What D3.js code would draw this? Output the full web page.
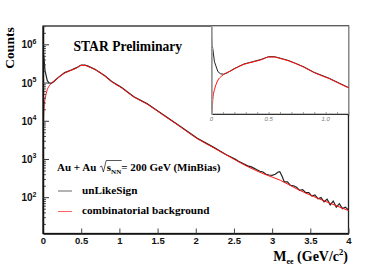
<!DOCTYPE html>
<html>
<head>
<meta charset="utf-8">
<script src="https://cdn.jsdelivr.net/npm/d3@7"></script>
<style>
	body { margin: 0; background: #fff; }
	svg { display: block; }
	.serif { font-family: "Liberation Serif", "Times New Roman", serif; font-weight: bold; }
	.sans { font-family: "Liberation Sans", Arial, sans-serif; font-weight: bold; }
</style>
</head>
<body>
<svg id="chart" width="371" height="266"></svg>
<script>
// mass in GeV/c^2, counts stored as log10(counts)
const bkgMass = [0, 0.004, 0.012, 0.03, 0.04, 0.057, 0.085, 0.131, 0.17, 0.197, 0.284, 0.37, 0.44, 0.50, 0.55, 0.59, 0.68, 0.81, 0.9, 1.03, 1.19, 1.36, 1.58, 1.80, 2.02, 2.23, 2.45, 2.67, 2.89, 3.11, 3.32, 3.54, 3.76, 4.0];
const bkgLog = [1.0, 3.6, 4.3, 4.6, 4.7, 4.82, 4.92, 5.02, 5.07, 5.12, 5.25, 5.32, 5.38, 5.45, 5.45, 5.42, 5.34, 5.17, 5.02, 4.86, 4.62, 4.44, 4.14, 3.84, 3.53, 3.30, 3.05, 2.81, 2.61, 2.44, 2.22, 2.02, 1.84, 1.65];

const unlikeMass = [0, 0.005, 0.012, 0.026, 0.056, 0.08, 0.108, 0.14, 0.17, 0.197, 0.284, 0.37, 0.44, 0.50, 0.55, 0.59, 0.68, 0.81, 0.9, 1.03, 1.19, 1.36, 1.58, 1.80, 2.02, 2.23,
	2.40, 2.44, 2.48, 2.52, 2.56, 2.60, 2.64, 2.68, 2.72, 2.76, 2.80, 2.84, 2.88, 2.92, 2.96, 3.00, 3.04, 3.08, 3.10, 3.13, 3.16, 3.20, 3.24, 3.28, 3.32, 3.36, 3.40, 3.44, 3.48, 3.52, 3.56, 3.60, 3.64, 3.68, 3.72, 3.76, 3.80, 3.84, 3.88, 3.92, 3.96, 4.00];
const unlikeLog = [6.0, 5.8, 5.66, 5.32, 5.05, 4.99, 4.98, 5.02, 5.08, 5.13, 5.26, 5.33, 5.39, 5.46, 5.46, 5.43, 5.35, 5.18, 5.03, 4.87, 4.63, 4.45, 4.15, 3.85, 3.54, 3.31,
	3.11, 3.07, 3.03, 2.99, 2.94, 2.90, 2.86, 2.82, 2.80, 2.76, 2.72, 2.68, 2.66, 2.60, 2.58, 2.57, 2.60, 2.66, 2.67, 2.55, 2.40, 2.40, 2.31, 2.30, 2.26, 2.18, 2.20, 2.12, 2.12, 2.03, 2.06, 1.96, 1.99, 1.88, 1.95, 1.80, 1.90, 1.74, 1.83, 1.70, 1.74, 1.66];

const massTicks = [0, 0.5, 1, 1.5, 2, 2.5, 3, 3.5, 4];
const massTickLabels = ["0", "0.5", "1", "1.5", "2", "2.5", "3", "3.5", "4"];
const countDecades = [2, 3, 4, 5, 6];
const insetTicks = [0, 0.5, 1.0];
const insetTickLabels = ["0", "0.5", "1.0"];

const bkgColor = "#ff1010";
const unlikeColor = "#222";

const svg = d3.select("#chart");
const main = { left: 43, right: 348.5, top: 26, bottom: 233.5 };
const inset = { left: 211.5, right: 348.5, top: 26, bottom: 114 };

const bkgData = bkgMass.map((m, i) => ({ m, c: 10 ** bkgLog[i] }));
const unlikeData = unlikeMass.map((m, i) => ({ m, c: 10 ** unlikeLog[i] }));

const x = d3.scaleLinear().domain([0, 4]).range([main.left, main.right]);
const y = d3.scaleLog().domain([10 ** 1.05, 10 ** 6.48]).range([main.bottom, main.top]);

const defs = svg.append("defs");
defs.append("clipPath").attr("id", "clipMain")
	.append("rect")
	.attr("x", main.left).attr("y", main.top)
	.attr("width", main.right - main.left).attr("height", main.bottom - main.top);
defs.append("clipPath").attr("id", "clipInset")
	.append("rect")
	.attr("x", inset.left).attr("y", inset.top)
	.attr("width", inset.right - inset.left).attr("height", inset.bottom - inset.top);

function drawCurves(g, xs, ys, clip, sigWidth) {
	const lineSig = d3.line().x(d => xs(d.m)).y(d => ys(d.c));
	const lineBkg = d3.line().x(d => xs(d.m)).y(d => ys(d.c)).curve(d3.curveMonotoneX);
	const cg = g.append("g").attr("clip-path", `url(#${clip})`);
	cg.append("path").datum(unlikeData)
		.attr("d", lineSig).attr("fill", "none")
		.attr("stroke", unlikeColor).attr("stroke-width", sigWidth);
	cg.append("path").datum(bkgData)
		.attr("d", lineBkg).attr("fill", "none")
		.attr("stroke", bkgColor).attr("stroke-width", 1);
}

// main frame
const gMain = svg.append("g");
gMain.append("rect")
	.attr("x", main.left).attr("y", main.top)
	.attr("width", main.right - main.left).attr("height", main.bottom - main.top)
	.attr("fill", "none").attr("stroke", "#222").attr("stroke-width", 1.3);

drawCurves(gMain, x, y, "clipMain", 1.2);

// x axis
const xAxis = gMain.append("g")
	.attr("transform", `translate(0,${main.bottom})`)
	.call(d3.axisBottom(x).tickValues(massTicks).tickSize(-5).tickSizeOuter(0).tickPadding(4)
		.tickFormat((d, i) => massTickLabels[i]));
xAxis.select(".domain").attr("stroke", "#111").attr("stroke-width", 1.4);
xAxis.selectAll(".tick line").attr("stroke", "#444");
xAxis.selectAll("text").attr("class", "sans").attr("font-size", 9.5).attr("fill", "#111");

// y axis
const minorVals = y.ticks().filter(v => Math.abs(Math.log10(v) - Math.round(Math.log10(v))) > 1e-6);
const yMinor = gMain.append("g")
	.attr("transform", `translate(${main.left},0)`)
	.call(d3.axisLeft(y).tickValues(minorVals).tickSize(-3).tickSizeOuter(0).tickFormat(""));
yMinor.select(".domain").remove();
yMinor.selectAll(".tick line").attr("stroke", "#555");
const yMajor = gMain.append("g")
	.attr("transform", `translate(${main.left},0)`)
	.call(d3.axisLeft(y).tickValues(countDecades.map(k => 10 ** k)).tickSize(-6).tickSizeOuter(0).tickFormat(""));
yMajor.select(".domain").attr("stroke", "#111").attr("stroke-width", 1.5);
yMajor.selectAll(".tick line").attr("stroke", "#333");

const yLabels = gMain.selectAll(".ylab")
	.data(countDecades)
	.enter()
	.append("text")
	.attr("class", "sans ylab")
	.attr("x", 36.5)
	.attr("y", d => y(10 ** d) + 4)
	.attr("text-anchor", "end")
	.attr("font-size", 10)
	.attr("fill", "#111");
yLabels.append("tspan").text("10");
yLabels.append("tspan").attr("dy", -4.5).attr("font-size", 7).text(d => d);

// axis titles
svg.append("text")
	.attr("class", "serif")
	.attr("transform", "translate(14,48) rotate(-90)")
	.attr("text-anchor", "middle")
	.attr("font-size", 13.5)
	.text("Counts");

const xTitle = svg.append("text")
	.attr("class", "serif")
	.attr("x", 348)
	.attr("y", 261)
	.attr("text-anchor", "end")
	.attr("font-size", 14);
xTitle.append("tspan").text("M");
xTitle.append("tspan").attr("font-size", 8).attr("dy", 3).text("ee");
xTitle.append("tspan").attr("dy", -3).text(" (GeV/c");
xTitle.append("tspan").attr("font-size", 8.5).attr("dy", -6).text("2");
xTitle.append("tspan").attr("dy", 6).text(")");

// labels
svg.append("text")
	.attr("class", "serif")
	.attr("x", 73.5).attr("y", 51)
	.attr("font-size", 13.6)
	.text("STAR Preliminary");

// Au + Au sqrt(s_NN) line, built piece by piece
const collG = svg.append("g").attr("class", "serif");
let cx = 57;
const cy = 171;
function piece(str, size, dy) {
	const t = collG.append("text")
		.attr("x", cx).attr("y", cy + (dy || 0))
		.attr("font-size", size)
		.text(str);
	cx += t.node().getComputedTextLength();
}
piece("Au + Au", 11);
cx += 3.5;
const radX = cx;
cx += 7;
piece("s", 11);
piece("NN", 7, 2.5);
collG.append("path")
	.attr("d", `M${radX},${cy - 4} L${radX + 1.8},${cy - 5} L${radX + 3.6},${cy + 1} L${radX + 6.4},${cy - 10.5} L${cx + 0.5},${cy - 10.5}`)
	.attr("fill", "none").attr("stroke", "#111").attr("stroke-width", 0.7);
piece("= 200 GeV (MinBias)", 11);

// legend
const legendItems = [
	{ label: "unLikeSign", color: "#666", y: 193.5 },
	{ label: "combinatorial background", color: "#ff6060", y: 214 }
];
const leg = svg.selectAll(".leg")
	.data(legendItems)
	.enter()
	.append("g")
	.attr("class", "leg");
leg.append("line")
	.attr("x1", 58).attr("x2", 72)
	.attr("y1", d => d.y - 2.5).attr("y2", d => d.y - 2.5)
	.attr("stroke", d => d.color).attr("stroke-width", 1);
leg.append("text")
	.attr("class", "serif")
	.attr("x", 82).attr("y", d => d.y)
	.attr("font-size", 11.2)
	.text(d => d.label);

// inset
const x2 = d3.scaleLinear().domain([0, 1.2]).range([inset.left, inset.right]);
const y2 = d3.scaleLog().domain([10 ** 3.89, 10 ** 6.30]).range([inset.bottom, inset.top]);
const gIn = svg.append("g");
gIn.append("rect")
	.attr("x", inset.left).attr("y", inset.top)
	.attr("width", inset.right - inset.left).attr("height", inset.bottom - inset.top)
	.attr("fill", "#fff").attr("stroke", "#888").attr("stroke-width", 1);

drawCurves(gIn, x2, y2, "clipInset", 1);

const inX = gIn.append("g")
	.attr("transform", `translate(0,${inset.bottom})`)
	.call(d3.axisBottom(x2).ticks(12).tickSize(-2).tickSizeOuter(0).tickPadding(2).tickFormat(""));
inX.select(".domain").attr("stroke", "#333").attr("stroke-width", 1.2);
inX.selectAll(".tick line").attr("stroke", "#999");
gIn.selectAll(".inlab")
	.data(insetTicks)
	.enter()
	.append("text")
	.attr("class", "inlab")
	.attr("x", d => x2(d))
	.attr("y", inset.bottom + 7)
	.attr("text-anchor", "middle")
	.attr("font-family", "Liberation Sans, Arial, sans-serif")
	.attr("font-style", "italic")
	.attr("font-size", 6)
	.attr("fill", "#777")
	.text((d, i) => insetTickLabels[i]);

const inY = gIn.append("g")
	.attr("transform", `translate(${inset.left},0)`)
	.call(d3.axisLeft(y2).tickSize(-1.5).tickSizeOuter(0).tickFormat(""));
inY.select(".domain").attr("stroke", "#999").attr("stroke-width", 1.5);
inY.selectAll(".tick line").attr("stroke", "#aaa");

// restore the main frame top and right edges over the inset
gMain.append("path")
	.attr("d", `M${inset.left},${main.top}H${main.right}V${inset.bottom + 2}`)
	.attr("fill", "none").attr("stroke", "#222").attr("stroke-width", 1.3);
</script>
</body>
</html>
